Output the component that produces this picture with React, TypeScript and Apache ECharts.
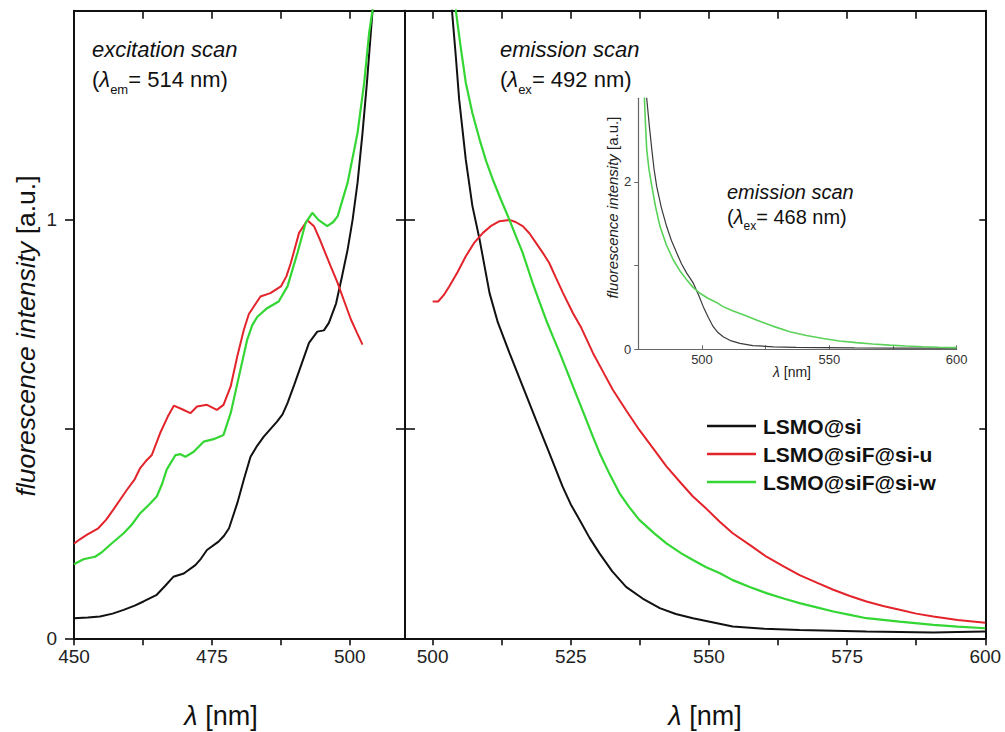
import React, { useEffect, useRef } from "react";
import * as echarts from "echarts";

const FONT = '"Liberation Sans", Arial, Helvetica, sans-serif';

const seriesNames = ["LSMO@si", "LSMO@siF@si-u", "LSMO@siF@si-w"];
const seriesColors = ["#111111", "#e3242b", "#33d633"];

// Excitation scans, λem = 514 nm: [wavelength nm, normalised intensity]
const excSi = [
  [450, 0.048], [452.5, 0.05], [454.7, 0.052], [457, 0.059], [459, 0.068], [461, 0.078],
  [462.6, 0.088], [465, 0.104], [466.5, 0.125], [468, 0.147], [469.9, 0.155], [472, 0.175],
  [473, 0.19], [474.1, 0.211], [476.2, 0.231], [477.2, 0.245], [478.1, 0.263], [479.6, 0.323],
  [480.8, 0.38], [482, 0.434], [483.2, 0.46], [484.4, 0.482], [485.6, 0.5], [486.8, 0.518],
  [487.8, 0.535], [488.7, 0.562], [489.9, 0.605], [491.1, 0.65], [492.6, 0.706], [494.1, 0.733],
  [495.3, 0.736], [496.2, 0.754], [497.5, 0.8], [498.5, 0.86], [499.6, 0.929], [500.5, 1.0],
  [501.4, 1.089], [502.3, 1.208], [503.1, 1.328], [503.8, 1.447], [504.3, 1.53],
];
const excSiFu = [
  [450, 0.226], [451, 0.236], [452.3, 0.247], [454.4, 0.263], [455.8, 0.283], [457.1, 0.307],
  [459.6, 0.355], [461, 0.38], [462, 0.407], [463, 0.423], [464.1, 0.438], [465.6, 0.49],
  [467, 0.53], [468.1, 0.556], [469.5, 0.548], [471.1, 0.538], [472.3, 0.554], [474.1, 0.558],
  [475.9, 0.546], [477.1, 0.558], [478.4, 0.602], [479.6, 0.674], [480.8, 0.738], [481.7, 0.775],
  [482.6, 0.793], [483.8, 0.817], [485.6, 0.825], [487.5, 0.841], [488.5, 0.865], [489.3, 0.897],
  [490.8, 0.969], [492.3, 0.999], [493.5, 0.985], [494.5, 0.955], [495.3, 0.929], [496.5, 0.89],
  [497.8, 0.849], [499, 0.805], [500.2, 0.762], [501.3, 0.73], [502.3, 0.702],
];
const excSiFw = [
  [450, 0.177], [451.7, 0.189], [453.8, 0.195], [455, 0.205], [456.5, 0.223], [459, 0.251],
  [460.5, 0.272], [462, 0.299], [463.5, 0.318], [465, 0.339], [466, 0.37], [466.8, 0.403],
  [468.4, 0.438], [469.3, 0.44], [470.2, 0.434], [471.7, 0.446], [473.5, 0.47], [475.3, 0.476],
  [477.1, 0.486], [478.4, 0.538], [479.9, 0.626], [481.4, 0.714], [482.3, 0.748], [483.2, 0.768],
  [485, 0.789], [487.1, 0.805], [488.7, 0.841], [490.5, 0.921], [492, 0.993], [493.2, 1.017],
  [494.3, 1.0], [495.9, 0.985], [497, 0.995], [497.8, 1.009], [499.6, 1.089], [501.4, 1.208],
  [502.6, 1.328], [503.5, 1.447], [504.1, 1.5], [504.5, 1.55],
];

// Emission scans, λex = 492 nm
const emSi = [
  [503.2, 1.56], [503.5, 1.5], [504.2, 1.39], [504.8, 1.288], [506, 1.144], [507.2, 1.033],
  [508.5, 0.953], [509.4, 0.889], [510.3, 0.825], [511.8, 0.755], [513.9, 0.682], [516.3, 0.602],
  [518.7, 0.522], [521.1, 0.443], [523.5, 0.363], [525, 0.32], [526.6, 0.283], [528.4, 0.24],
  [530.2, 0.203], [532.5, 0.16], [535, 0.123], [538, 0.095], [541.1, 0.072], [544, 0.058],
  [547.1, 0.048], [551.9, 0.035], [554.3, 0.028], [560, 0.023], [566.4, 0.02], [572.5, 0.018],
  [578.5, 0.016], [584.5, 0.015], [590.6, 0.014], [595, 0.015], [600, 0.016],
];
const emSiFu = [
  [500, 0.805], [501, 0.805], [502, 0.82], [503, 0.841], [504.5, 0.875], [506, 0.913],
  [507.5, 0.945], [509.1, 0.969], [510.5, 0.985], [512.1, 0.997], [513.9, 1.0], [515, 0.995],
  [516.3, 0.985], [517.5, 0.968], [518.7, 0.945], [520, 0.92], [521.1, 0.897], [522.3, 0.862],
  [523.6, 0.825], [525.4, 0.777], [526.9, 0.742], [529, 0.682], [530.8, 0.638], [532.6, 0.594],
  [535, 0.545], [537.4, 0.498], [540, 0.452], [542.3, 0.411], [545, 0.37], [547.1, 0.339],
  [549.5, 0.31], [551.9, 0.279], [554.3, 0.251], [557.5, 0.222], [560.4, 0.195], [563.5, 0.172],
  [566.4, 0.151], [569.5, 0.133], [572.5, 0.116], [575.5, 0.101], [578.5, 0.088], [581.5, 0.077],
  [584.5, 0.068], [587.5, 0.059], [590.6, 0.052], [595, 0.044], [600, 0.037],
];
const emSiFw = [
  [504, 1.56], [504.2, 1.5], [505, 1.42], [506, 1.328], [507.2, 1.255], [508.5, 1.192],
  [509.7, 1.14], [510.9, 1.096], [512.4, 1.047], [513.9, 1.0], [515.1, 0.96], [516.3, 0.921],
  [517.2, 0.885], [518.1, 0.849], [519.3, 0.805], [520.5, 0.762], [521.8, 0.72], [523, 0.682],
  [524.2, 0.642], [525.4, 0.602], [526.6, 0.562], [527.8, 0.522], [529, 0.482], [530.2, 0.443],
  [532, 0.393], [533.8, 0.347], [535.6, 0.313], [537.4, 0.283], [540, 0.252], [542.3, 0.227],
  [545, 0.203], [547.1, 0.187], [549.5, 0.17], [551.9, 0.156], [554.3, 0.139], [557.5, 0.122],
  [560.4, 0.108], [563.5, 0.095], [566.4, 0.084], [569.5, 0.074], [572.5, 0.064], [575.5, 0.056],
  [578.5, 0.048], [584.5, 0.04], [590.6, 0.032], [595, 0.028], [600, 0.024],
];

// Inset: emission scans, λex = 468 nm
const insetSi = [
  [478, 3.1], [478.3, 3.0], [479.3, 2.68], [480.3, 2.39], [481.2, 2.15], [482.2, 1.95],
  [484, 1.7], [486.1, 1.47], [488, 1.3], [490.1, 1.15], [492, 1.02], [494, 0.91],
  [496.6, 0.79], [498.5, 0.66], [500.5, 0.51], [502.5, 0.38], [504.4, 0.27], [506.3, 0.2],
  [508.3, 0.15], [511.5, 0.1], [514.9, 0.07], [520, 0.045], [528, 0.03], [537, 0.024],
  [547.6, 0.02], [560, 0.017], [575, 0.015], [590, 0.014], [600, 0.015],
];
const insetSiFw = [
  [477.1, 3.1], [477.4, 3.0], [477.8, 2.7], [478.3, 2.39], [479.2, 2.15], [480.3, 1.95],
  [481.8, 1.7], [483.5, 1.47], [486, 1.25], [488.7, 1.07], [491.3, 0.94], [494, 0.83],
  [496.5, 0.74], [499.2, 0.67], [502.3, 0.61], [505.7, 0.56], [508.3, 0.51], [512, 0.46],
  [516.5, 0.41], [521.4, 0.35], [527.5, 0.28], [534.5, 0.21], [541, 0.165], [547.6, 0.13],
  [554, 0.1], [560.6, 0.08], [567, 0.064], [573.7, 0.05], [580, 0.04], [586.8, 0.03],
  [593, 0.025], [600, 0.02],
];

// Axis ticks and labels
const excBottomTicks = [450, 462.5, 475, 487.5, 500];
const excLabels = [450, 475, 500];
const excTopTicks = [462.5, 475, 487.5, 500];
const emBottomTicks = [500, 512.5, 525, 537.5, 550, 562.5, 575, 587.5, 600];
const emLabels = [500, 525, 550, 575, 600];
const emTopTicks = [500, 512.5, 525, 537.5, 550, 562.5, 575, 587.5];
const intensityTicks = [0, 0.5, 1];
const intensityLabels = [0, 1];
const intensityInnerTicks = [0.5, 1];
const insetXTicks = [500, 525, 550, 575, 600];
const insetXLabels = [500, 550, 600];
const insetYTicks = [0, 1, 2];
const insetYLabels = [0, 2];

const INK = "#111";

function makeAxis(gridIndex: number, min: number, max: number, position: string, opts: any) {
  return {
    type: "value",
    gridIndex,
    min,
    max,
    position,
    splitLine: { show: false },
    axisLine: { show: true, onZero: false, lineStyle: opts.lineStyle || { color: INK, width: 2 } },
    axisTick: {
      show: true,
      inside: !!opts.inside,
      length: opts.length,
      customValues: opts.ticks,
      lineStyle: opts.tickStyle || { color: INK, width: 1.6 },
    },
    axisLabel: opts.labels
      ? {
          show: true,
          customValues: opts.labels,
          margin: opts.margin,
          ...(opts.labelStyle || { fontSize: 19, color: "#222", fontFamily: FONT }),
        }
      : { show: false },
  };
}

function lineSeries(name: string, data: number[][], xi: number, yi: number, color: string, width: number) {
  return {
    type: "line",
    name,
    data,
    xAxisIndex: xi,
    yAxisIndex: yi,
    showSymbol: false,
    symbol: "none",
    clip: true,
    silent: true,
    lineStyle: { color, width },
    itemStyle: { color },
  };
}

// Layer 1: the two main panels (excitation | emission)
function buildPanels() {
  return {
    animation: false,
    backgroundColor: "#ffffff",
    grid: [
      { left: 74, top: 10.7, width: 331, height: 627.6 },
      { left: 405, top: 10.7, width: 580.3, height: 627.6 },
    ],
    xAxis: [
      makeAxis(0, 450, 510, "bottom", { length: 7, ticks: excBottomTicks, labels: excLabels, margin: 9 }),
      makeAxis(0, 450, 510, "top", { inside: true, length: 8, ticks: excTopTicks }),
      makeAxis(1, 495, 600, "bottom", { length: 7, ticks: emBottomTicks, labels: emLabels, margin: 9 }),
      makeAxis(1, 495, 600, "top", { inside: true, length: 8, ticks: emTopTicks }),
    ],
    yAxis: [
      makeAxis(0, 0, 1.5, "left", { length: 9, ticks: intensityTicks, labels: intensityLabels, margin: 17 }),
      makeAxis(0, 0, 1.5, "right", { inside: true, length: 9, ticks: intensityInnerTicks }),
      makeAxis(1, 0, 1.5, "left", { inside: true, length: 10, ticks: intensityInnerTicks }),
      makeAxis(1, 0, 1.5, "right", { inside: true, length: 6, ticks: intensityInnerTicks }),
    ],
    series: [
      lineSeries(seriesNames[0] + " excitation", excSi, 0, 0, seriesColors[0], 2),
      lineSeries(seriesNames[1] + " excitation", excSiFu, 0, 0, seriesColors[1], 2),
      lineSeries(seriesNames[2] + " excitation", excSiFw, 0, 0, seriesColors[2], 2.2),
      lineSeries(seriesNames[0] + " emission", emSi, 2, 2, seriesColors[0], 2),
      lineSeries(seriesNames[1] + " emission", emSiFu, 2, 2, seriesColors[1], 2),
      lineSeries(seriesNames[2] + " emission", emSiFw, 2, 2, seriesColors[2], 2.2),
    ],
  };
}

// Layer 2: the inset (emission at λex = 468 nm)
function buildInset() {
  const insetLine = { color: "#666", width: 1.2 };
  const insetTick = { color: "#666", width: 1 };
  const insetLabel = { fontSize: 13, color: "#333", fontFamily: FONT };
  return {
    animation: false,
    backgroundColor: "transparent",
    grid: [{ left: 638.3, top: 98.3, width: 318.4, height: 251 }],
    xAxis: [
      makeAxis(0, 475, 600, "bottom", {
        inside: true, length: 4, ticks: insetXTicks, labels: insetXLabels, margin: 4,
        lineStyle: insetLine, tickStyle: insetTick, labelStyle: insetLabel,
      }),
    ],
    yAxis: [
      makeAxis(0, 0, 3, "left", {
        length: 4, ticks: insetYTicks, labels: insetYLabels, margin: 7,
        lineStyle: insetLine, tickStyle: insetTick, labelStyle: insetLabel,
      }),
    ],
    series: [
      lineSeries(seriesNames[0] + " 468", insetSi, 0, 0, "#3a3a3a", 1.2),
      lineSeries(seriesNames[2] + " 468", insetSiFw, 0, 0, "#5ad25a", 1.6),
    ],
  };
}

const richLambda = (size: number, sub: number, subPad: number) => ({
  n: { fontSize: size, fontFamily: FONT, fill: INK, verticalAlign: "top", lineHeight: size + 4 },
  l: { fontSize: size, fontFamily: FONT, fontStyle: "italic", fill: INK, verticalAlign: "top", lineHeight: size + 4 },
  s: { fontSize: sub, fontFamily: FONT, fill: INK, verticalAlign: "top", padding: [subPad, 0, 0, 0] },
});

const richTitle = (size: number, fill: string) => ({
  i: { fontSize: size, fontStyle: "italic", fontFamily: FONT, fill },
  n: { fontSize: size, fontFamily: FONT, fill },
});

// Layer 3: axis titles, annotations and the key
function buildAnnotations() {
  const keyRows = seriesNames.map((name, i) => [name, seriesColors[i], 426 + i * 28] as const);
  return {
    animation: false,
    backgroundColor: "transparent",
    graphic: [
      {
        type: "text", x: 26, y: 336, rotation: Math.PI / 2,
        style: { text: "{i|fluorescence intensity}{n| [a.u.]}", align: "center", verticalAlign: "middle", rich: richTitle(26.5, INK) },
      },
      ...[221, 705].map((cx) => ({
        type: "text", x: cx, y: 716,
        style: { text: "{i|λ}{n| [nm]}", align: "center", verticalAlign: "middle", rich: richTitle(27, INK) },
      })),
      {
        type: "text", x: 92, y: 49,
        style: { text: "excitation scan", fontSize: 22, fontStyle: "italic", fontFamily: FONT, fill: INK, verticalAlign: "middle" },
      },
      {
        type: "text", x: 92, y: 68.5,
        style: { text: "{n|(}{l|λ}{s|em}{n|= 514 nm)}", verticalAlign: "top", rich: richLambda(22, 13, 14) },
      },
      {
        type: "text", x: 500, y: 49,
        style: { text: "emission scan", fontSize: 22, fontStyle: "italic", fontFamily: FONT, fill: INK, verticalAlign: "middle" },
      },
      {
        type: "text", x: 500, y: 68.5,
        style: { text: "{n|(}{l|λ}{s|ex}{n|= 492 nm)}", verticalAlign: "top", rich: richLambda(22, 13, 14) },
      },
      {
        type: "text", x: 727, y: 191.5,
        style: { text: "emission scan", fontSize: 20, fontStyle: "italic", fontFamily: FONT, fill: INK, verticalAlign: "middle" },
      },
      {
        type: "text", x: 727, y: 207,
        style: { text: "{n|(}{l|λ}{s|ex}{n|= 468 nm)}", verticalAlign: "top", rich: richLambda(20, 12, 13) },
      },
      {
        type: "text", x: 612, y: 207.5, rotation: Math.PI / 2,
        style: { text: "{i|fluorescence intensity}{n| [a.u.]}", align: "center", verticalAlign: "middle", rich: richTitle(15, "#222") },
      },
      {
        type: "text", x: 792, y: 372,
        style: { text: "{i|λ}{n| [nm]}", align: "center", verticalAlign: "middle", rich: richTitle(14, "#222") },
      },
      // key
      ...keyRows.map(([, color, y]) => ({
        type: "line",
        shape: { x1: 707, y1: y, x2: 756, y2: y },
        style: { stroke: color, lineWidth: 2.4 },
      })),
      ...keyRows.map(([name, , y]) => ({
        type: "text", x: 763, y,
        style: { text: name, fontSize: 21, fontWeight: "bold", fontFamily: FONT, fill: INK, verticalAlign: "middle" },
      })),
    ],
  };
}

function ChartLayer({ build }: { build: () => any }) {
  const ref = useRef<HTMLDivElement>(null);
  useEffect(() => {
    if (!ref.current) return;
    const chart = echarts.init(ref.current, undefined, { renderer: "svg" });
    chart.setOption(build());
    return () => chart.dispose();
  }, [build]);
  return <div ref={ref} style={{ position: "absolute", left: 0, top: 0, width: 1005, height: 732 }} />;
}

export default function App() {
  return (
    <div style={{ position: "absolute", left: 0, top: 0, width: 1005, height: 732, background: "#fff" }}>
      <ChartLayer build={buildPanels} />
      <ChartLayer build={buildInset} />
      <ChartLayer build={buildAnnotations} />
    </div>
  );
}
